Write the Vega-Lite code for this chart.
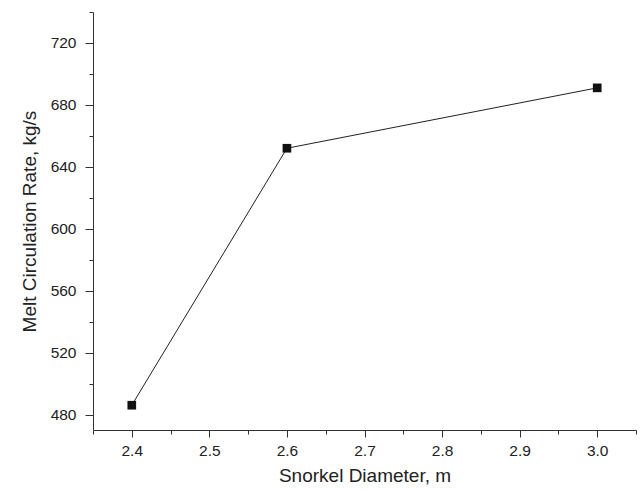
{
  "$schema": "https://vega.github.io/schema/vega-lite/v6.json",
  "width": 543,
  "height": 418,
  "autosize": "none",
  "padding": {"left": 93, "top": 12, "right": 4, "bottom": 60},
  "background": "white",
  "config": {
    "view": {"stroke": null},
    "axis": {
      "labelFont": "Liberation Sans",
      "titleFont": "Liberation Sans",
      "labelFontSize": 15.5,
      "titleFontSize": 19,
      "titleFontWeight": "normal",
      "labelColor": "#222",
      "titleColor": "#222",
      "domainColor": "#333",
      "tickColor": "#333",
      "grid": false
    }
  },
  "data": {
    "values": [
      {"d": 2.4, "r": 486},
      {"d": 2.6, "r": 652},
      {"d": 3.0, "r": 691}
    ]
  },
  "encoding": {
    "x": {
      "field": "d",
      "type": "quantitative",
      "scale": {"domain": [2.35, 3.05], "nice": false, "zero": false},
      "axis": {
        "title": "Snorkel Diameter, m",
        "values": [2.35, 2.4, 2.45, 2.5, 2.55, 2.6, 2.65, 2.7, 2.75, 2.8, 2.85, 2.9, 2.95, 3.0, 3.05],
        "labelExpr": "abs(round(datum.value*20)) % 2 == 0 ? format(datum.value, '.1f') : ''",
        "tickSize": {"condition": {"test": "abs(round(datum.value*20)) % 2 == 0", "value": 7}, "value": 4},
        "labelPadding": 6,
        "titlePadding": 8,
        "labelFlush": false
      }
    },
    "y": {
      "field": "r",
      "type": "quantitative",
      "scale": {"domain": [470, 740], "nice": false, "zero": false},
      "axis": {
        "title": "Melt Circulation Rate, kg/s",
        "values": [480, 500, 520, 540, 560, 580, 600, 620, 640, 660, 680, 700, 720, 740],
        "labelExpr": "datum.value % 40 == 0 ? datum.value : ''",
        "tickSize": {"condition": {"test": "datum.value % 40 == 0", "value": 8}, "value": 4},
        "labelPadding": 9,
        "titlePadding": 11,
        "labelFlush": false
      }
    }
  },
  "layer": [
    {"mark": {"type": "line", "color": "#222", "strokeWidth": 1}},
    {"mark": {"type": "point", "shape": "square", "filled": true, "color": "#111", "opacity": 1, "size": 75}}
  ]
}
